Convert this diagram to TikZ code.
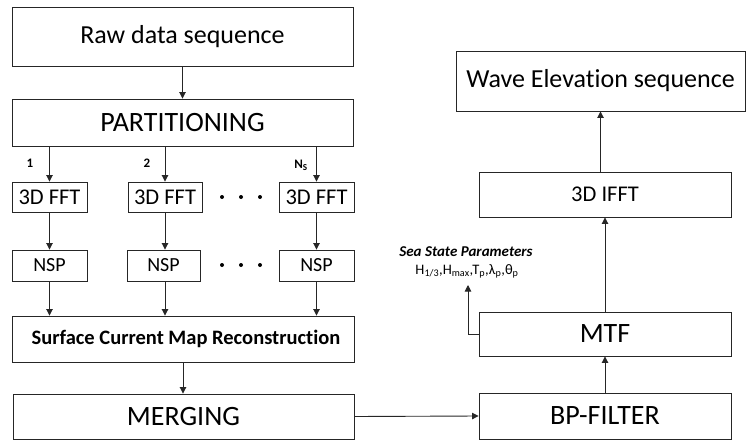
\documentclass[tikz,border=0pt]{standalone}
\usepackage{fontspec}
\setmainfont[Ligatures={NoCommon,NoContextual}]{Carlito}
\usetikzlibrary{arrows.meta}
\tikzset{
  box/.style={draw=black!85, line width=0.9pt, rectangle, inner sep=0pt, align=center, fill=white},
  arr/.style={draw=black!85, line width=0.9pt, -{Triangle[length=6.5pt,width=6.5pt]}},
  lnk/.style={draw=black!85, line width=0.9pt},
  dotmark/.style={circle, fill=black, inner sep=0pt, minimum size=4pt},
  lbl/.style={inner sep=0pt, font=\fontsize{13}{15}\selectfont\bfseries}
}
\newcommand{\bx}[6]{% name, x1, y1, x2, y2, text
  \node[box, minimum width={#4-#2}, minimum height={#5-#3}] (#1) at ({(#2+#4)/2},{(#3+#5)/2}) {#6};}
\begin{document}
\begin{tikzpicture}[x=1pt,y=-1pt]
\useasboundingbox (0,0) rectangle (746,441);
% left column
\bx{raw}{12}{7}{353}{66}{\fontsize{26}{30}\selectfont Raw data sequence}
\bx{part}{12}{99}{353}{146}{\fontsize{28}{32}\selectfont PARTITIONING}
\bx{fftA}{12}{182}{87}{212}{\fontsize{22.5}{26}\selectfont 3D FFT}
\bx{fftB}{128}{182}{202}{212}{\fontsize{22.5}{26}\selectfont 3D FFT}
\bx{fftC}{279}{182}{354}{212}{\fontsize{22.5}{26}\selectfont 3D FFT}
\bx{nspA}{12}{250}{87}{281}{\fontsize{20}{24}\selectfont NSP}
\bx{nspB}{127}{250}{200}{281}{\fontsize{20}{24}\selectfont NSP}
\bx{nspC}{279}{250}{354}{281}{\fontsize{20}{24}\selectfont NSP}
\bx{scm}{12}{316}{354}{362}{\hspace*{6pt}\fontsize{20.5}{24}\selectfont\bfseries Surface Current Map Reconstruct\kern0pt ion}
\bx{merge}{13}{394}{354}{439}{\fontsize{28}{32}\selectfont MERGING}
% right column
\bx{wave}{456}{51}{745}{111}{\fontsize{26}{30}\selectfont Wave Elevat\kern0pt ion sequence}
\bx{ifft}{479}{172}{731}{217}{\fontsize{22.5}{26}\selectfont 3D IFFT}
\bx{mtf}{479}{312}{731}{356}{\fontsize{28}{32}\selectfont MTF}
\bx{bp}{479}{393}{731}{439}{\fontsize{28}{32}\selectfont BP-FILTER}
% dots
\foreach \xx [count=\i] in {222,241,260}{
  \node[dotmark] (da\i) at (\xx,197) {};
  \node[dotmark] (db\i) at (\xx,265) {};
}
% branch labels
\node[lbl] (l1) at (30,163) {1};
\node[lbl] (l2) at (147,163) {2};
\node[lbl] (l3) at (301,165) {N\textsubscript{S}};
% sea state texts
\node[inner sep=0pt, font=\fontsize{15}{18}\selectfont\bfseries\itshape] (ssp) at (466,252) {Sea State Parameters};
\node[inner sep=0pt, font=\fontsize{14.5}{17}\selectfont] (ssv) at (467,271) {H\textsubscript{1/3},H\textsubscript{max},T\textsubscript{p},λ\textsubscript{p},θ\textsubscript{p}};
\coordinate (sscorner) at (468,334);
\coordinate (sstop) at (468,285);
% connectors
\draw[arr] (raw.south) -- (part.north);
\draw[arr] (part.south -| fftA.north) -- (fftA.north);
\draw[arr] (part.south -| fftB.north) -- (fftB.north);
\draw[arr] (part.south -| fftC.north) -- (fftC.north);
\draw[arr] (fftA.south) -- (nspA.north);
\draw[arr] (fftB.south) -- (nspB.north -| fftB.south);
\draw[arr] (fftC.south) -- (nspC.north -| fftC.south);
\draw[arr] (nspA.south) -- (scm.north -| nspA.south);
\draw[arr] (nspB.south -| fftB.south) -- (scm.north -| fftB.south);
\draw[arr] (nspC.south -| fftC.south) -- (scm.north -| fftC.south);
\draw[arr] (scm.south) -- (merge.north -| scm.south);
\draw[arr] (merge.east) -- (bp.west);
\draw[arr] (bp.north) -- (mtf.south);
\draw[arr] (mtf.north) -- (ifft.south);
\draw[arr] (ifft.north -| wave.south) -- (wave.south);
\draw[arr] (mtf.west) -- (sscorner) -- (sstop);
\end{tikzpicture}
\end{document}
